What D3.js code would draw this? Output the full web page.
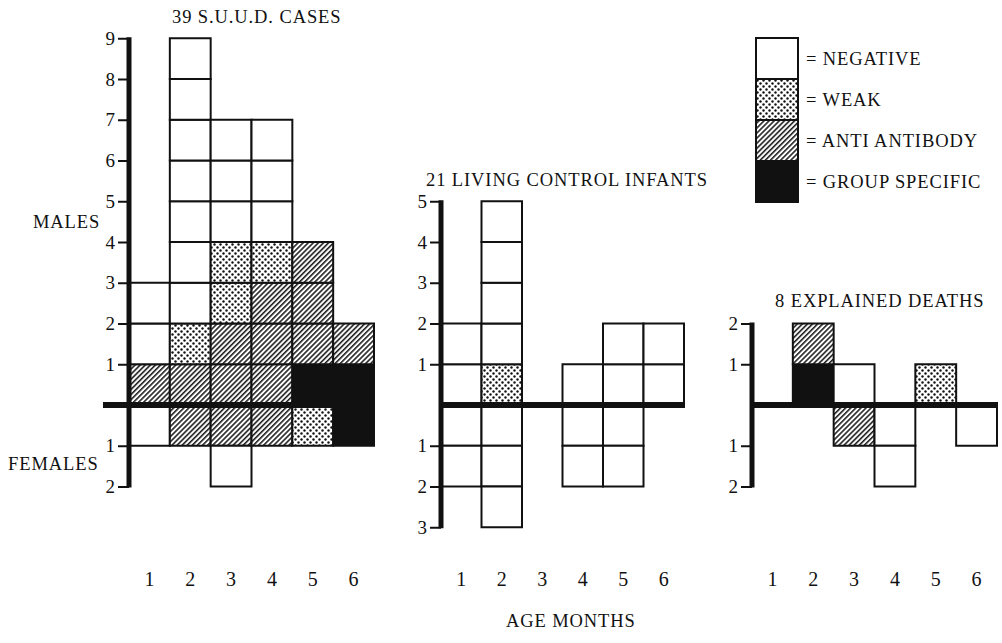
<!DOCTYPE html>
<html>
<head>
<meta charset="utf-8">
<script src="https://cdn.jsdelivr.net/npm/d3@7"></script>
<style>
	body { margin: 0; background: #fff; }
	svg { display: block; }
	text { font-family: "Liberation Serif", "Times New Roman", serif; fill: #111; }
	.label { font-size: 18.5px; letter-spacing: 0.9px; }
</style>
</head>
<body>
<svg id="chart" width="1002" height="643"></svg>
<script>
// N = negative, W = weak, A = anti antibody, G = group specific
// each inner array is one month column, stacked from the base line outward
var months = [1, 2, 3, 4, 5, 6];
var categories = ["N", "W", "A", "G"];
var categoryLabels = ["= NEGATIVE", "= WEAK", "= ANTI ANTIBODY", "= GROUP SPECIFIC"];

var suudMales = [
	["A", "N", "N"],
	["A", "W", "N", "N", "N", "N", "N", "N", "N"],
	["A", "A", "W", "W", "N", "N", "N"],
	["A", "A", "A", "W", "N", "N", "N"],
	["G", "A", "A", "A"],
	["G", "A"]
];
var suudFemales = [["N"], ["A"], ["A", "N"], ["A"], ["W"], ["G"]];

var controlMales = [["N", "N"], ["W", "N", "N", "N", "N"], [], ["N"], ["N", "N"], ["N", "N"]];
var controlFemales = [["N", "N"], ["N", "N", "N"], [], ["N", "N"], ["N", "N"], []];

var explainedMales = [[], ["G", "A"], ["N"], [], ["W"], []];
var explainedFemales = [[], [], ["A"], ["N", "N"], [], ["N"]];

var suudTicks = [9, 8, 7, 6, 5, 4, 3, 2, 1, -1, -2];
var controlTicks = [5, 4, 3, 2, 1, -1, -2, -3];
var explainedTicks = [2, 1, -1, -2];

var svg = d3.select("#chart");

function translate(x, y)
{
	return "translate(" + x + "," + y + ")";
}

var defs = svg.append("defs");
var dots = defs.append("pattern")
	.attr("id", "dots")
	.attr("patternUnits", "userSpaceOnUse")
	.attr("width", 6)
	.attr("height", 6);
dots.append("rect").attr("width", 6).attr("height", 6).attr("fill", "#fff");
dots.append("circle").attr("cx", 1.5).attr("cy", 1.5).attr("r", 1.2).attr("fill", "#111");
dots.append("circle").attr("cx", 4.5).attr("cy", 4.5).attr("r", 1.2).attr("fill", "#111");

var hatch = defs.append("pattern")
	.attr("id", "hatch")
	.attr("patternUnits", "userSpaceOnUse")
	.attr("width", 3.6)
	.attr("height", 3.6)
	.attr("patternTransform", "rotate(45)");
hatch.append("rect").attr("width", 3.6).attr("height", 3.6).attr("fill", "#fff");
hatch.append("line")
	.attr("x1", 0.8).attr("y1", 0).attr("x2", 0.8).attr("y2", 3.6)
	.attr("stroke", "#111").attr("stroke-width", 1.5);

var fill = d3.scaleOrdinal()
	.domain(categories)
	.range(["#fff", "url(#dots)", "url(#hatch)", "#111"]);

// shared vertical scale, one unit = one infant
var y = d3.scaleLinear()
	.domain([-3, 9])
	.range([405 + 3 * 40.75, 405 - 9 * 40.75]);

function drawPanel(opts)
{
	var g = svg.append("g").attr("class", "panel");
	var x = d3.scaleBand()
		.domain(months)
		.range(opts.range);
	var bw = x.bandwidth();

	var cells = [];
	months.forEach(function(m, i){
		opts.males[i].forEach(function(c, j){
			cells.push({month: m, cat: c, y0: j, y1: j + 1});
		});
		opts.females[i].forEach(function(c, j){
			cells.push({month: m, cat: c, y0: -j - 1, y1: -j});
		});
	});

	g.selectAll("rect.cell")
		.data(cells)
		.enter().append("rect")
			.attr("class", "cell")
			.attr("x", function(d){return x(d.month);})
			.attr("y", function(d){return y(d.y1);})
			.attr("width", bw)
			.attr("height", function(d){return y(d.y0) - y(d.y1);})
			.attr("fill", function(d){return fill(d.cat);})
			.attr("stroke", "#111")
			.attr("stroke-width", 2);

	// base line
	g.append("line")
		.attr("x1", opts.baseLeft).attr("x2", opts.range[1] + 1)
		.attr("y1", y(0)).attr("y2", y(0))
		.attr("stroke", "#111").attr("stroke-width", 6);

	// y axis with absolute counts
	var axis = g.append("g")
		.attr("transform", translate(opts.range[0], 0))
		.call(d3.axisLeft(y).tickValues(opts.ticks).tickSize(11).tickPadding(3)
			.tickFormat(function(d){return Math.abs(d);}));
	axis.select(".domain").remove();
	axis.selectAll(".tick line").attr("stroke", "#111").attr("stroke-width", 2);
	axis.selectAll(".tick text")
		.attr("font-size", 19)
		.attr("font-family", "Liberation Serif, serif")
		.attr("fill", "#111");
	g.append("line")
		.attr("x1", opts.range[0]).attr("x2", opts.range[0])
		.attr("y1", y(d3.max(opts.ticks)) - 1).attr("y2", y(d3.min(opts.ticks)) + 1)
		.attr("stroke", "#111").attr("stroke-width", 5);

	// month labels
	var xAxis = g.append("g")
		.attr("transform", translate(0, 572))
		.call(d3.axisBottom(x).tickSize(0).tickPadding(0));
	xAxis.select(".domain").remove();
	xAxis.selectAll(".tick text")
		.attr("dy", "0.71em")
		.attr("font-size", 20)
		.attr("font-family", "Liberation Serif, serif")
		.attr("fill", "#111");

	g.append("text")
		.attr("class", "label")
		.attr("x", opts.titleX)
		.attr("y", opts.titleY)
		.text(opts.title);
}

drawPanel({
	males: suudMales, females: suudFemales, ticks: suudTicks,
	range: [129, 374], baseLeft: 103,
	title: "39 S.U.U.D. CASES", titleX: 172, titleY: 23
});
drawPanel({
	males: controlMales, females: controlFemales, ticks: controlTicks,
	range: [441, 684], baseLeft: 441,
	title: "21 LIVING CONTROL INFANTS", titleX: 426, titleY: 186
});
drawPanel({
	males: explainedMales, females: explainedFemales, ticks: explainedTicks,
	range: [752, 997], baseLeft: 752,
	title: "8 EXPLAINED DEATHS", titleX: 775, titleY: 307
});

svg.append("text").attr("class", "label").attr("x", 33).attr("y", 228).text("MALES");
svg.append("text").attr("class", "label").attr("x", 8).attr("y", 470).text("FEMALES");
svg.append("text").attr("class", "label").attr("x", 506).attr("y", 627).text("AGE MONTHS");

// legend
var ly = d3.scaleBand()
	.domain(categories)
	.range([38, 202]);
var legend = svg.append("g").attr("class", "legend")
	.selectAll("g")
	.data(categories)
	.enter().append("g")
		.attr("transform", function(d){return translate(0, ly(d));});
legend.append("rect")
	.attr("x", 756)
	.attr("width", 42)
	.attr("height", ly.bandwidth())
	.attr("fill", fill)
	.attr("stroke", "#111")
	.attr("stroke-width", 2);
legend.append("text")
	.attr("class", "label")
	.attr("x", 806)
	.attr("y", ly.bandwidth() / 2)
	.attr("dy", "0.36em")
	.text(function(d, i){return categoryLabels[i];});
</script>
</body>
</html>
